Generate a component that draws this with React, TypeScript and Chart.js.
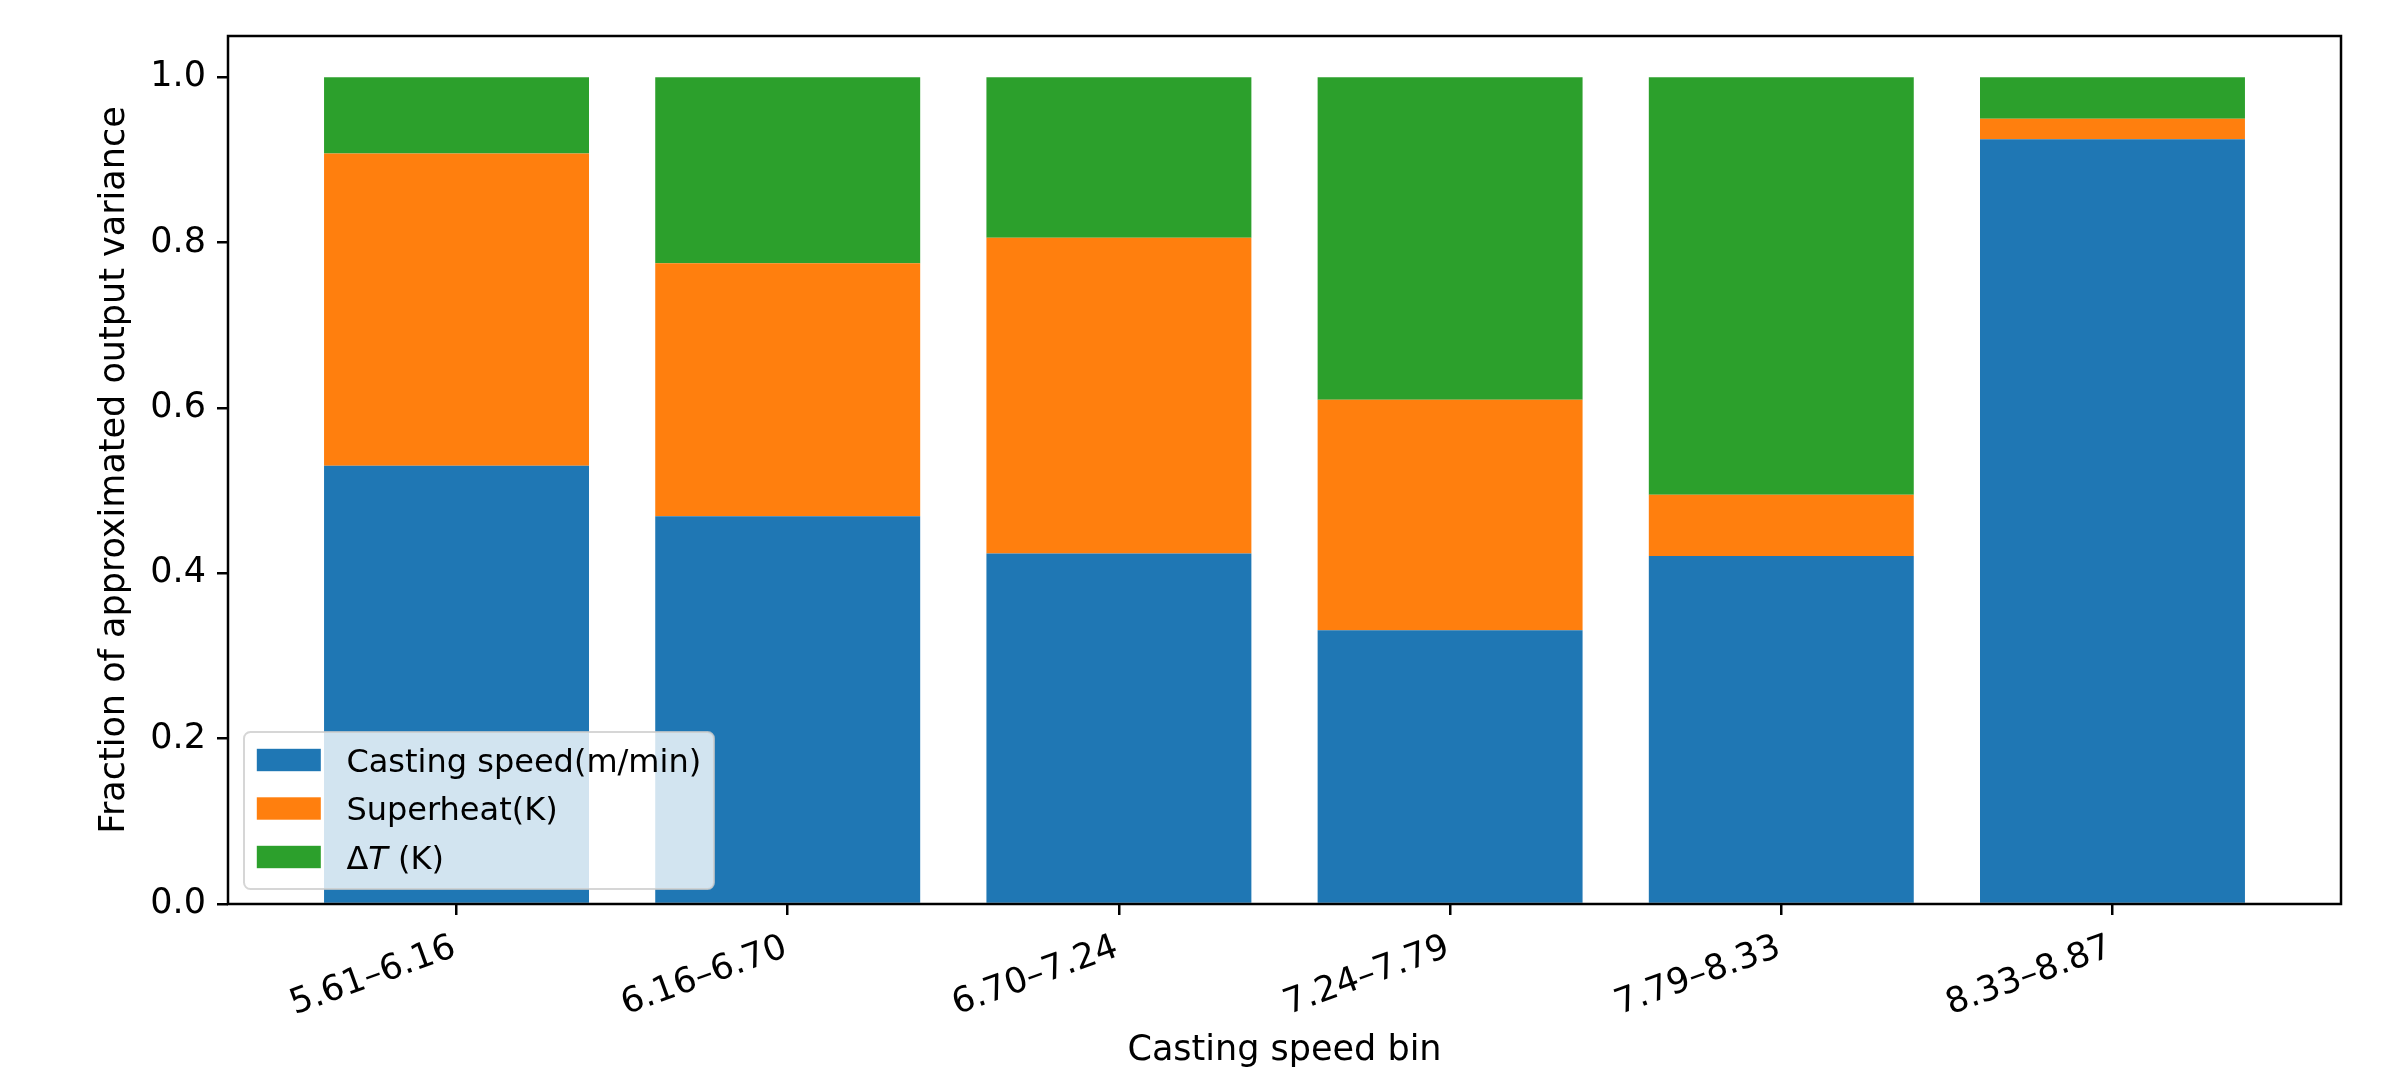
import React, { useEffect, useRef } from "react";
import { Chart, registerables } from "chart.js";

Chart.register(...registerables);

// Casting speed bins (m/min) on the x axis
const speedBins = ["5.61–6.16", "6.16–6.70", "6.70–7.24", "7.24–7.79", "7.79–8.33", "8.33–8.87"];

// Share of the approximated output variance per input, per bin
const castingSpeedShare = [0.530, 0.469, 0.424, 0.331, 0.421, 0.925];
const superheatShare = [0.378, 0.306, 0.382, 0.279, 0.074, 0.025];
const deltaTShare = [0.092, 0.225, 0.194, 0.390, 0.505, 0.050];

const seriesLabels = ["Casting speed(m/min)", "Superheat(K)", "ΔT (K)"];
const seriesColors = ["#1f77b4", "#ff7f0e", "#2ca02c"];

const yTickValues = [0, 0.2, 0.4, 0.6, 0.8, 1.0];

const FONT_FAMILY = "DejaVu Sans";
const AXIS_FONT_SIZE = 35;
const LEGEND_FONT_SIZE = 32;
const INK = "#000000";
const LINE_W = 2.5;

// Split a legend label so that a symbol following Δ is set in italics.
function labelSegments(label: string) {
  const segs: { text: string; italic: boolean }[] = [];
  const idx = label.indexOf("Δ");
  if (idx >= 0 && idx + 1 < label.length) {
    if (idx > 0) segs.push({ text: label.slice(0, idx), italic: false });
    segs.push({ text: "Δ", italic: false });
    segs.push({ text: label[idx + 1], italic: true });
    segs.push({ text: label.slice(idx + 2), italic: false });
  } else {
    segs.push({ text: label, italic: false });
  }
  return segs;
}

function roundRect(ctx: CanvasRenderingContext2D, x: number, y: number, w: number, h: number, r: number) {
  ctx.beginPath();
  ctx.moveTo(x + r, y);
  ctx.lineTo(x + w - r, y);
  ctx.arcTo(x + w, y, x + w, y + r, r);
  ctx.lineTo(x + w, y + h - r);
  ctx.arcTo(x + w, y + h, x + w - r, y + h, r);
  ctx.lineTo(x + r, y + h);
  ctx.arcTo(x, y + h, x, y + h - r, r);
  ctx.lineTo(x, y + r);
  ctx.arcTo(x, y, x + r, y, r);
  ctx.closePath();
}

// Axes frame plus an in-plot legend box (lower left)
const framePlugin = {
  id: "axesFrameAndLegend",
  afterDatasetsDraw(chart: any) {
    const { ctx, chartArea: a } = chart;
    ctx.save();
    ctx.strokeStyle = INK;
    ctx.lineWidth = LINE_W;
    ctx.strokeRect(a.left, a.top, a.right - a.left, a.bottom - a.top);

    // legend
    const fs = LEGEND_FONT_SIZE;
    const pad = 0.4 * fs;
    const handleLen = 2.0 * fs;
    const handleH = 0.7 * fs;
    const textGap = 0.8 * fs;
    const rowH = 48.5;
    const datasets = chart.data.datasets;
    const normalFont = `${fs}px "${FONT_FAMILY}"`;
    const italicFont = `italic ${fs}px "${FONT_FAMILY}"`;

    const measure = (label: string) => {
      let w = 0;
      for (const s of labelSegments(label)) {
        ctx.font = s.italic ? italicFont : normalFont;
        w += ctx.measureText(s.text).width;
      }
      return w;
    };
    let maxW = 0;
    datasets.forEach((d: any) => { maxW = Math.max(maxW, measure(d.label)); });

    const boxW = pad + handleLen + textGap + maxW + pad;
    const boxH = 2 * 28 + (datasets.length - 1) * rowH + 4;
    const boxX = a.left + 0.5 * fs;
    const boxY = a.bottom - 0.5 * fs + 1 - boxH;

    ctx.globalAlpha = 0.8;
    roundRect(ctx, boxX, boxY, boxW, boxH, 0.2 * fs);
    ctx.fillStyle = "#ffffff";
    ctx.fill();
    ctx.lineWidth = 2;
    ctx.strokeStyle = "#cccccc";
    ctx.stroke();
    ctx.globalAlpha = 1;

    datasets.forEach((d: any, i: number) => {
      const cy = boxY + 28 + i * rowH;
      ctx.fillStyle = d.backgroundColor;
      ctx.fillRect(boxX + pad, cy - handleH / 2, handleLen, handleH);
      let tx = boxX + pad + handleLen + textGap;
      ctx.fillStyle = INK;
      ctx.textBaseline = "alphabetic";
      ctx.textAlign = "left";
      for (const s of labelSegments(d.label)) {
        ctx.font = s.italic ? italicFont : normalFont;
        ctx.fillText(s.text, tx, cy + 0.365 * fs);
        tx += ctx.measureText(s.text).width;
      }
    });
    ctx.restore();
  },
};

export default function App() {
  const canvasRef = useRef<HTMLCanvasElement | null>(null);

  useEffect(() => {
    const canvas = canvasRef.current;
    if (!canvas) return;
    const font = { family: FONT_FAMILY, size: AXIS_FONT_SIZE };
    const seriesValues = [castingSpeedShare, superheatShare, deltaTShare];
    const tickGrid = {
      display: true,
      drawOnChartArea: false,
      drawTicks: true,
      tickLength: 11,
      lineWidth: LINE_W,
      color: INK,
      offset: false,
    };

    const chart = new Chart(canvas, {
      type: "bar",
      data: {
        datasets: seriesValues.map((vals, k) => ({
          label: seriesLabels[k],
          data: vals.map((v, i) => ({ x: i, y: v })),
          backgroundColor: seriesColors[k],
          borderWidth: 0,
          categoryPercentage: 1,
          barPercentage: 0.8,
        })),
      },
      options: {
        animation: false,
        responsive: false,
        devicePixelRatio: 1,
        layout: { padding: { top: 36, right: 47, left: 0, bottom: 0 } },
        plugins: { legend: { display: false }, tooltip: { enabled: false } },
        scales: {
          x: {
            type: "linear",
            min: -0.69,
            max: 5.69,
            stacked: true,
            offset: false,
            afterBuildTicks: (s: any) => {
              s.ticks = speedBins.map((_, i) => ({ value: i }));
            },
            afterFit: (s: any) => {
              s.height = 168;
            },
            ticks: {
              callback: (v: any) => speedBins[Math.round(Number(v))],
              autoSkip: false,
              minRotation: 20,
              maxRotation: 20,
              labelOffset: -2,
              font,
              color: INK,
              padding: 12,
            },
            grid: tickGrid,
            border: { display: false },
            title: {
              display: true,
              text: "Casting speed bin",
              font,
              color: INK,
              padding: { top: 0, bottom: 0 },
            },
          },
          y: {
            type: "linear",
            min: 0,
            max: 1.05,
            stacked: true,
            afterBuildTicks: (s: any) => {
              s.ticks = yTickValues.map((v) => ({ value: v }));
            },
            afterFit: (s: any) => {
              s.width = 228;
            },
            ticks: {
              callback: (v: any) => Number(v).toFixed(1),
              font,
              color: INK,
              padding: 11,
            },
            grid: tickGrid,
            border: { display: false },
            title: {
              display: true,
              text: "Fraction of approximated output variance",
              font,
              color: INK,
              padding: { top: 94, bottom: 0 },
            },
          },
        },
      },
      plugins: [framePlugin],
    } as any);

    return () => chart.destroy();
  }, []);

  return (
    <div style={{ position: "fixed", left: 0, top: 0, width: 2388, height: 1072, background: "#ffffff" }}>
      <canvas ref={canvasRef} width={2388} height={1072} style={{ display: "block", width: 2388, height: 1072 }} />
    </div>
  );
}
